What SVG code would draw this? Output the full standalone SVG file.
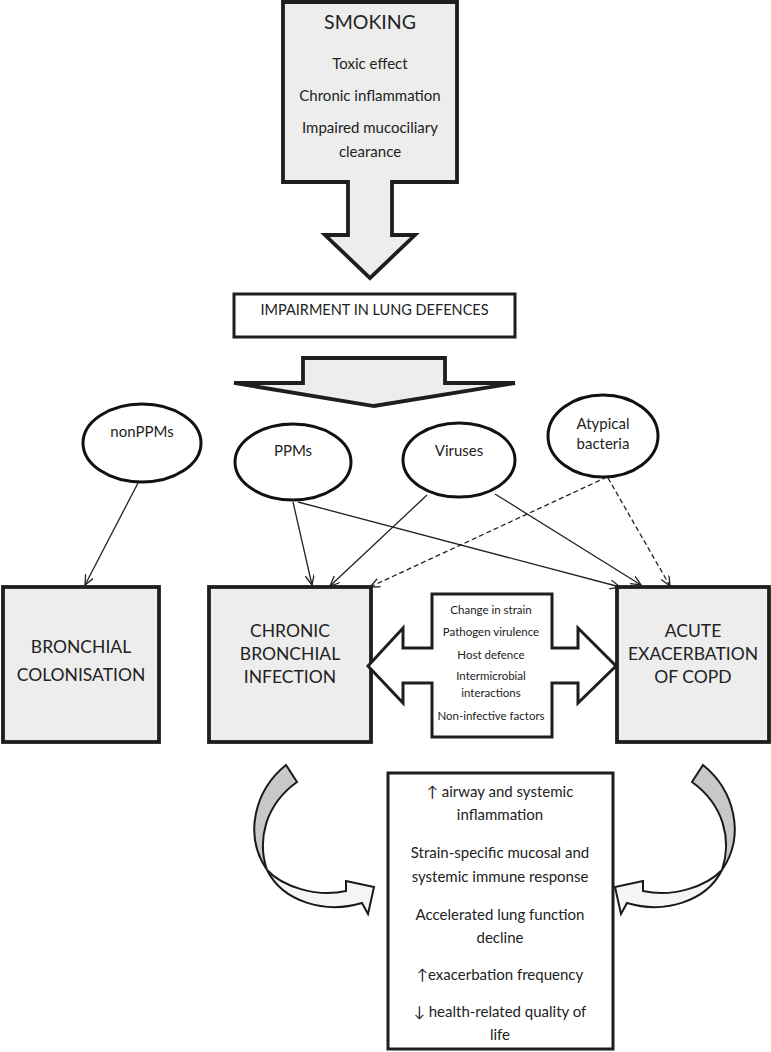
<svg xmlns="http://www.w3.org/2000/svg" width="771" height="1052" viewBox="0 0 771 1052">
<defs>
<style>
text{font-family:Lato,"Liberation Sans",sans-serif;fill:#222;text-anchor:middle}
.box{fill:#ededed;stroke:#1e1e1e;stroke-width:3.8}
.wbox{fill:#fff;stroke:#1e1e1e;stroke-width:3}
.ell{fill:#fff;stroke:#111;stroke-width:3}
.ln{fill:none;stroke:#222;stroke-width:1.3;marker-end:url(#ah)}
.dl{fill:none;stroke:#222;stroke-width:1.3;stroke-dasharray:5 3;marker-end:url(#ah)}
.t20{font-size:19.5px}
.t15{font-size:15px}
.t14{font-size:14.5px}
.t18{font-size:17.5px}
.t11{font-size:11.5px}
</style>
<marker id="ah" markerUnits="userSpaceOnUse" markerWidth="12" markerHeight="10" refX="10" refY="4.5" orient="auto">
<path d="M0,0 L10,4.5 L0,9" fill="none" stroke="#222" stroke-width="1.3"/>
</marker>
<g id="curve">
<path d="M286,765 C255,790 243,835 267,870 C257,840 265,805 297,782 Z" fill="#c8c8c8" stroke="#1a1a1a" stroke-width="2"/>
<path d="M267,870 C282,886 316,898 346,891 L346,881 L374,887 L368,914 L362,903 C325,914 283,902 267,870 Z" fill="#f5f5f5" stroke="#1a1a1a" stroke-width="2"/>
</g>
</defs>

<g id="smoking">
<polygon class="box" points="283,2 457,2 457,182 392,182 392,235 415,235 370,278 325,235 348,235 348,182 283,182" stroke-width="4"/>
<text class="t20" x="370" y="29">SMOKING</text>
<text class="t15" x="370" y="69">Toxic effect</text>
<text class="t15" x="370" y="101">Chronic inflammation</text>
<text class="t15" x="370" y="133">Impaired mucociliary</text>
<text class="t15" x="370" y="157">clearance</text>
</g>

<g id="impairment">
<rect class="wbox" x="234" y="294" width="281" height="43"/>
<text class="t14" x="374.5" y="315">IMPAIRMENT IN LUNG DEFENCES</text>
</g>

<g id="down-arrow">
<polygon class="box" points="303,358 445,358 445,383 515,383 374,406 234,383 303,383" stroke-width="3"/>
</g>

<g id="nonppms">
<ellipse class="ell" cx="142" cy="443" rx="59" ry="39"/>
<text class="t15" x="142" y="437">nonPPMs</text>
</g>
<g id="ppms">
<ellipse class="ell" cx="293" cy="462" rx="58" ry="38"/>
<text class="t15" x="293" y="456">PPMs</text>
</g>
<g id="viruses">
<ellipse class="ell" cx="459" cy="460" rx="56" ry="37"/>
<text class="t15" x="459" y="456">Viruses</text>
</g>
<g id="atypical">
<ellipse class="ell" cx="603" cy="436" rx="55" ry="41"/>
<text class="t15" x="603" y="429">Atypical</text>
<text class="t15" x="603" y="449">bacteria</text>
</g>

<g id="connectors">
<line class="ln" x1="138" y1="483" x2="85" y2="585"/>
<line class="ln" x1="293" y1="502" x2="312" y2="585"/>
<line class="ln" x1="298" y1="502" x2="620" y2="587"/>
<line class="ln" x1="427" y1="495" x2="330" y2="586"/>
<line class="ln" x1="495" y1="494" x2="641" y2="585"/>
<line class="dl" x1="607" y1="477" x2="370" y2="587"/>
<line class="dl" x1="608" y1="478" x2="670" y2="586"/>
</g>

<g id="colonisation">
<rect class="box" x="3" y="587" width="156" height="155"/>
<text class="t18" x="81" y="653">BRONCHIAL</text>
<text class="t18" x="81" y="681">COLONISATION</text>
</g>

<g id="chronic">
<rect class="box" x="209" y="587" width="162" height="155"/>
<text class="t18" x="290" y="637">CHRONIC</text>
<text class="t18" x="290" y="660">BRONCHIAL</text>
<text class="t18" x="290" y="683">INFECTION</text>
</g>

<g id="acute">
<rect class="box" x="617" y="587" width="152" height="155"/>
<text class="t18" x="693" y="637">ACUTE</text>
<text class="t18" x="693" y="660">EXACERBATION</text>
<text class="t18" x="693" y="683">OF COPD</text>
</g>

<g id="factors">
<polygon class="wbox" stroke-width="3.5" points="368,666 403,628 403,648 432,648 432,594 552,594 552,648 578,648 578,628 616,666 578,703 578,683 552,683 552,737 432,737 432,683 403,683 403,703"/>
<text class="t11" x="491" y="614">Change in strain</text>
<text class="t11" x="491" y="636">Pathogen virulence</text>
<text class="t11" x="491" y="659">Host defence</text>
<text class="t11" x="491" y="680">Intermicrobial</text>
<text class="t11" x="491" y="697">interactions</text>
<text class="t11" x="491" y="720">Non-infective factors</text>
</g>

<g id="curved-arrows">
<use href="#curve"/>
<use href="#curve" transform="translate(989,0) scale(-1,1)"/>
</g>

<g id="consequences">
<rect class="wbox" x="388" y="773" width="225" height="276"/>
<text class="t15" x="500" y="797">↑ airway and systemic</text>
<text class="t15" x="500" y="820">inflammation</text>
<text class="t15" x="500" y="858">Strain-specific mucosal and</text>
<text class="t15" x="500" y="882">systemic immune response</text>
<text class="t15" x="500" y="920">Accelerated lung function</text>
<text class="t15" x="500" y="943">decline</text>
<text class="t15" x="500" y="980">↑exacerbation frequency</text>
<text class="t15" x="500" y="1017">↓ health-related quality of</text>
<text class="t15" x="500" y="1040">life</text>
</g>
</svg>
